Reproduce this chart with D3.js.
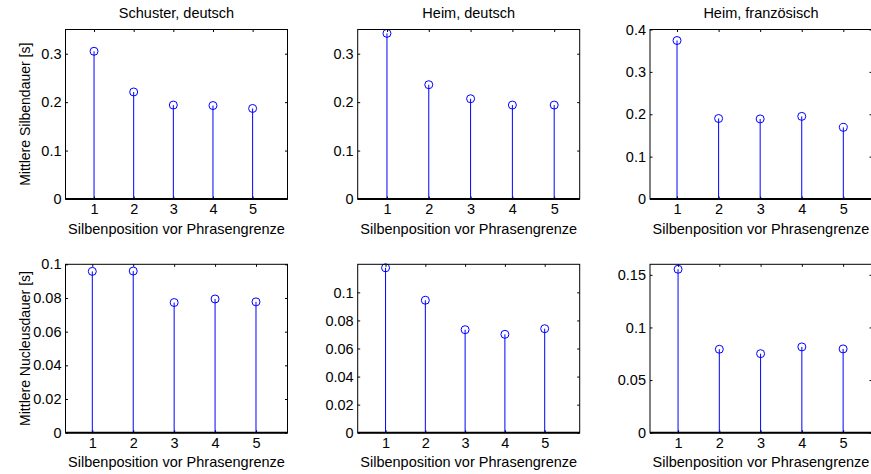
<!DOCTYPE html>
<html>
<head>
<meta charset="utf-8">
<script src="https://cdn.jsdelivr.net/npm/d3@7/dist/d3.min.js"></script>
<style>
  html, body { margin: 0; padding: 0; background: #fff; }
  svg { display: block; }
  text { font-family: "Liberation Sans", Arial, Helvetica, sans-serif; fill: #000; }
</style>
</head>
<body>
<svg id="chart" width="871" height="474"></svg>
<script>
// ---- data ----
const positions = [1, 2, 3, 4, 5];
const titles = ["Schuster, deutsch", "Heim, deutsch", "Heim, französisch"];
const yLabels = ["Mittlere Silbendauer [s]", "Mittlere Nucleusdauer [s]"];
const xLabel = "Silbenposition vor Phrasengrenze";

const silbenSchusterDe = [0.305, 0.221, 0.194, 0.193, 0.187];
const silbenHeimDe     = [0.342, 0.236, 0.207, 0.194, 0.194];
const silbenHeimFr     = [0.374, 0.190, 0.189, 0.195, 0.169];
const nucleusSchusterDe = [0.0958, 0.0960, 0.0773, 0.0794, 0.0777];
const nucleusHeimDe     = [0.1175, 0.0944, 0.0734, 0.0701, 0.0741];
const nucleusHeimFr     = [0.1553, 0.0793, 0.0751, 0.0815, 0.0796];

const yTicksSilben = [0, 0.1, 0.2, 0.3];
const yTicksSilbenFr = [0, 0.1, 0.2, 0.3, 0.4];
const yTicksNucleus = [0, 0.02, 0.04, 0.06, 0.08, 0.1];
const yTicksNucleusFr = [0, 0.05, 0.1, 0.15];

const yMax = [[0.35, 0.35, 0.4], [0.1, 0.12, 0.16]];
const xLim = [[[0.28, 5.88], [0.30, 5.61], [0.35, 5.69]],
              [[0.345, 5.77], [0.30, 5.88], [0.32, 5.70]]];

const panelValues = [[silbenSchusterDe, silbenHeimDe, silbenHeimFr],
                     [nucleusSchusterDe, nucleusHeimDe, nucleusHeimFr]];
const panelYTicks = [[yTicksSilben, yTicksSilben, yTicksSilbenFr],
                     [yTicksNucleus, yTicksNucleus, yTicksNucleusFr]];

// ---- layout ----
const colLeft = [65.5, 357.7, 650];
const panelW = 222;
const rowTop = [29.5, 264.3];
const rowBottom = [199, 432.7];
const tickLen = 2.5;
const blue = "#0000ff";
const fs = 14.5;
const fmt = d3.format("~g");

const svg = d3.select("#chart");

for (let r = 0; r < 2; r++) {
  for (let c = 0; c < 3; c++) {
    const x0 = colLeft[c], x1 = colLeft[c] + panelW;
    const y0 = rowTop[r], y1 = rowBottom[r];
    const x = d3.scaleLinear().domain(xLim[r][c]).range([x0, x1]);
    const y = d3.scaleLinear().domain([0, yMax[r][c]]).range([y1, y0]);
    const g = svg.append("g");
    const vals = panelValues[r][c];
    const data = positions.map((p, i) => ({p, v: vals[i]}));

    // bottom axis with labels (ticks inward)
    g.append("g").attr("transform", `translate(0,${y1})`)
      .call(d3.axisBottom(x).tickValues(positions).tickSize(-tickLen).tickPadding(5).tickFormat(d3.format("d")))
      .call(a => {
        a.select(".domain").remove();
        a.selectAll("line").attr("stroke", "#000");
        a.selectAll("text").attr("font-size", fs).attr("font-family", null).attr("dy", "0.71em");
      });
    // top ticks
    g.append("g").attr("transform", `translate(0,${y0})`)
      .call(d3.axisTop(x).tickValues(positions).tickSize(-tickLen).tickFormat(""))
      .call(a => { a.select(".domain").remove(); a.selectAll("line").attr("stroke", "#000"); });
    // left axis
    g.append("g").attr("transform", `translate(${x0},0)`)
      .call(d3.axisLeft(y).tickValues(panelYTicks[r][c]).tickSize(-tickLen).tickPadding(4).tickFormat(fmt))
      .call(a => {
        a.select(".domain").remove();
        a.selectAll("line").attr("stroke", "#000");
        a.selectAll("text").attr("font-size", fs).attr("font-family", null);
      });
    // right ticks
    g.append("g").attr("transform", `translate(${x1},0)`)
      .call(d3.axisRight(y).tickValues(panelYTicks[r][c]).tickSize(-tickLen).tickFormat(""))
      .call(a => { a.select(".domain").remove(); a.selectAll("line").attr("stroke", "#000"); });

    // stems
    g.selectAll(".stem").data(data).join("line")
      .attr("x1", d => x(d.p)).attr("x2", d => x(d.p))
      .attr("y1", y(0)).attr("y2", d => y(d.v))
      .attr("stroke", blue).attr("stroke-width", 1);
    g.selectAll(".mark").data(data).join("circle")
      .attr("cx", d => x(d.p)).attr("cy", d => y(d.v)).attr("r", 4)
      .attr("fill", "none").attr("stroke", blue).attr("stroke-width", 1);

    // box
    g.append("rect").attr("x", x0).attr("y", y0).attr("width", x1 - x0).attr("height", y1 - y0)
      .attr("fill", "none").attr("stroke", "#000").attr("stroke-width", 1);
    // baseline at zero
    g.append("line").attr("x1", x0).attr("x2", x1).attr("y1", y(0)).attr("y2", y(0))
      .attr("stroke", "#000").attr("stroke-width", 2);

    // x label
    g.append("text").attr("x", (x0 + x1) / 2).attr("y", y1 + 34.5)
      .attr("text-anchor", "middle").attr("font-size", fs).text(xLabel);
    if (r === 0) {
      g.append("text").attr("x", (x0 + x1) / 2).attr("y", 18)
        .attr("text-anchor", "middle").attr("font-size", fs).text(titles[c]);
    }
    if (c === 0) {
      g.append("text").attr("transform", `translate(29.5,${(y0 + y1) / 2}) rotate(-90)`)
        .attr("text-anchor", "middle").attr("font-size", 14).text(yLabels[r]);
    }
  }
}
</script>
</body>
</html>
